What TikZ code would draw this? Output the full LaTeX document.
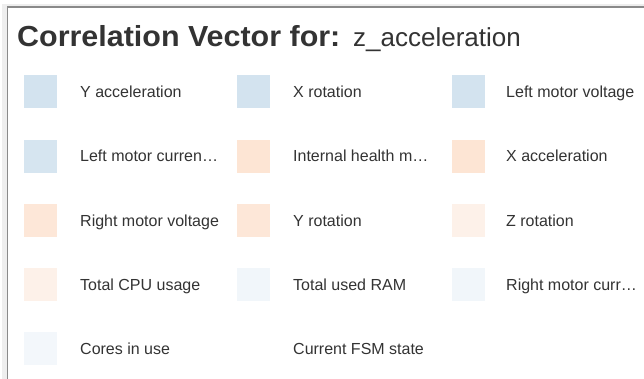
\documentclass[tikz,border=0pt]{standalone}
\usepackage{fontspec}
\setmainfont{Liberation Sans}
\definecolor{txt}{HTML}{333333}
\definecolor{bA}{HTML}{D3E3EF}
\definecolor{bB}{HTML}{D6E5F0}
\definecolor{oA}{HTML}{FDE5D4}
\definecolor{oB}{HTML}{FDE7D8}
\definecolor{oC}{HTML}{FDF1E9}
\definecolor{lA}{HTML}{F1F6FA}
\definecolor{lB}{HTML}{F3F7FB}
\definecolor{band}{HTML}{EEEEEE}
\definecolor{edge}{HTML}{8A8A8A}
\begin{document}
\begin{tikzpicture}[x=1pt,y=-1pt,
  swatch/.style={minimum width=33pt,minimum height=33pt,inner sep=0pt,anchor=north west},
  lbl/.style={font=\fontsize{16}{18}\selectfont,text=txt,inner sep=0pt,anchor=base west}]
\useasboundingbox (0,0) rectangle (644,379);
\fill[band] (2,4) rectangle (644,379);
\fill[white] (8,8) rectangle (644,379);
\draw[edge,line width=1.3pt] (7.5,379) -- (7.5,7) -- (644,7);
\node[inner sep=0pt,anchor=base west,text=txt,font=\fontsize{29}{32}\selectfont\bfseries,xscale=1.05] (title) at (17,47) {Correlation Vector for:};
\node[inner sep=0pt,anchor=base west,text=txt,font=\fontsize{26}{30}\selectfont] (target) at (353,47) {z\_acceleration};
% row 1
\node[swatch,fill=bA] (s11) at (24,75) {};
\node[lbl] (t11) at (80,97.5) {Y acceleration};
\node[swatch,fill=bA] (s12) at (237,75) {};
\node[lbl] (t12) at (293,97.5) {X rotation};
\node[swatch,fill=bA] (s13) at (452,75) {};
\node[lbl] (t13) at (506,97.5) {Left motor voltage};
% row 2
\node[swatch,fill=bB] (s21) at (24,140) {};
\node[lbl] (t21) at (80,162) {Left motor curren\dots};
\node[swatch,fill=oA] (s22) at (237,140) {};
\node[lbl] (t22) at (293,162) {Internal health m\dots};
\node[swatch,fill=oA] (s23) at (452,140) {};
\node[lbl] (t23) at (506,162) {X acceleration};
% row 3
\node[swatch,fill=oB] (s31) at (24,204) {};
\node[lbl] (t31) at (80,226) {Right motor voltage};
\node[swatch,fill=oB] (s32) at (237,204) {};
\node[lbl] (t32) at (293,226) {Y rotation};
\node[swatch,fill=oC] (s33) at (452,204) {};
\node[lbl] (t33) at (506,226) {Z rotation};
% row 4
\node[swatch,fill=oC] (s41) at (24,268) {};
\node[lbl] (t41) at (80,290) {Total CPU usage};
\node[swatch,fill=lA] (s42) at (237,268) {};
\node[lbl] (t42) at (293,290) {Total used RAM};
\node[swatch,fill=lA] (s43) at (452,268) {};
\node[lbl] (t43) at (506,290) {Right motor curr\dots};
% row 5
\node[swatch,fill=lB] (s51) at (24,332) {};
\node[lbl] (t51) at (80,354) {Cores in use};
\node[lbl] (t52) at (293,354) {Current FSM state};
\end{tikzpicture}
\end{document}
